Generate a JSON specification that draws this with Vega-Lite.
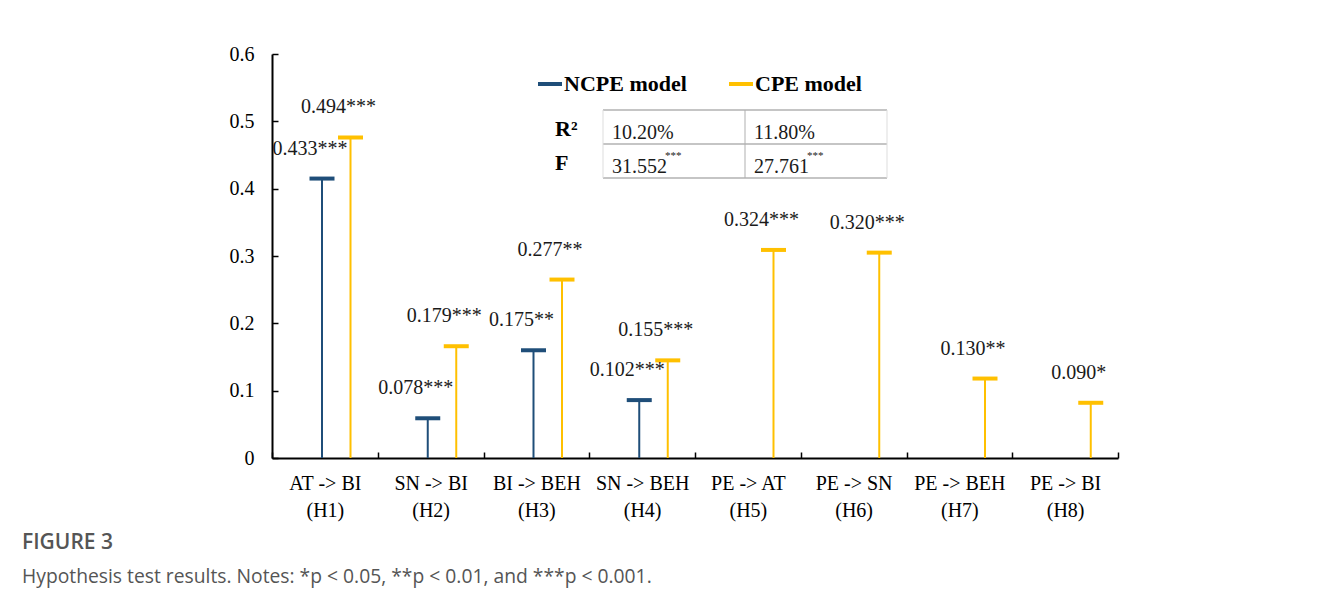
{
  "$schema": "https://vega.github.io/schema/vega-lite/v6.json",
  "width": 846,
  "height": 404,
  "autosize": {"type": "none"},
  "padding": {"left": 272, "top": 54, "right": 213, "bottom": 153},
  "background": "white",
  "config": {"view": {"stroke": null}, "font": "Liberation Serif"},
  "title": {
    "text": "FIGURE 3",
    "subtitle": "Hypothesis test results. Notes: *p < 0.05, **p < 0.01, and ***p < 0.001.",
    "orient": "bottom",
    "anchor": "start",
    "frame": "group",
    "dx": -250,
    "offset": 12,
    "font": "Open Sans",
    "fontSize": 21,
    "fontWeight": 600,
    "color": "#555555",
    "subtitleFont": "Open Sans",
    "subtitleFontSize": 19.3,
    "subtitleColor": "#555555",
    "subtitlePadding": 15
  },
  "datasets": {
    "paths": [
      {"path": "AT -> BI (H1)", "model": "NCPE", "value": 0.415, "label": "0.433***"},
      {"path": "AT -> BI (H1)", "model": "CPE", "value": 0.476, "label": "0.494***"},
      {"path": "SN -> BI (H2)", "model": "NCPE", "value": 0.059, "label": "0.078***"},
      {"path": "SN -> BI (H2)", "model": "CPE", "value": 0.166, "label": "0.179***"},
      {"path": "BI -> BEH (H3)", "model": "NCPE", "value": 0.160, "label": "0.175**"},
      {"path": "BI -> BEH (H3)", "model": "CPE", "value": 0.265, "label": "0.277**"},
      {"path": "SN -> BEH (H4)", "model": "NCPE", "value": 0.086, "label": "0.102***"},
      {"path": "SN -> BEH (H4)", "model": "CPE", "value": 0.145, "label": "0.155***"},
      {"path": "PE -> AT (H5)", "model": "CPE", "value": 0.309, "label": "0.324***"},
      {"path": "PE -> SN (H6)", "model": "CPE", "value": 0.305, "label": "0.320***"},
      {"path": "PE -> BEH (H7)", "model": "CPE", "value": 0.118, "label": "0.130**"},
      {"path": "PE -> BI (H8)", "model": "CPE", "value": 0.082, "label": "0.090*"}
    ],
    "fit": [
      {"row": "R²", "col": "NCPE", "val": "10.20%", "sup": ""},
      {"row": "R²", "col": "CPE", "val": "11.80%", "sup": ""},
      {"row": "F", "col": "NCPE", "val": "31.552", "sup": "***"},
      {"row": "F", "col": "CPE", "val": "27.761", "sup": "***"}
    ]
  },
  "layer": [
    {
      "data": {"name": "paths"},
      "encoding": {
        "x": {
          "field": "path",
          "type": "nominal",
          "sort": null,
          "scale": {"paddingInner": 0, "paddingOuter": 0},
          "axis": {
            "title": null,
            "labelAngle": 0,
            "tickBand": "extent",
            "tickSize": -6,
            "tickColor": "black",
            "tickWidth": 1.5,
            "domainColor": "black",
            "domainWidth": 2,
            "labelFont": "Liberation Serif",
            "labelFontSize": 20,
            "labelColor": "black",
            "labelPadding": 21,
            "labelLineHeight": 27,
            "labelExpr": "indexof(datum.label, ' (') > 0 ? [split(datum.label, ' (')[0], '(' + split(datum.label, ' (')[1]] : ''"
          }
        },
        "xOffset": {
          "field": "model",
          "type": "nominal",
          "scale": {"type": "point", "domain": ["NCPE", "CPE"], "range": [50, 78.5], "padding": 0}
        },
        "y": {
          "field": "value",
          "type": "quantitative",
          "scale": {"domain": [0, 0.6], "nice": false, "zero": true},
          "axis": {
            "title": null,
            "values": [0, 0.1, 0.2, 0.3, 0.4, 0.5, 0.6],
            "format": ".1~f",
            "grid": false,
            "tickSize": -6,
            "tickColor": "black",
            "tickWidth": 1.5,
            "domainColor": "black",
            "domainWidth": 2,
            "labelFont": "Liberation Serif",
            "labelFontSize": 20,
            "labelColor": "black",
            "labelPadding": 24
          }
        },
        "color": {
          "field": "model",
          "type": "nominal",
          "scale": {"domain": ["NCPE", "CPE"], "range": ["#1F4E79", "#FFC000"]},
          "legend": {
            "title": null,
            "orient": "none",
            "direction": "horizontal",
            "legendX": 264,
            "legendY": 16,
            "padding": 0,
            "symbolType": "stroke",
            "symbolSize": 576,
            "symbolStrokeWidth": 4,
            "symbolOpacity": 1,
            "labelOffset": 0,
            "columnPadding": 34,
            "labelFont": "Liberation Serif",
            "labelFontSize": 22,
            "labelFontWeight": "bold",
            "labelColor": "black",
            "labelExpr": "datum.label + ' model'"
          }
        }
      },
      "layer": [
        {"mark": {"type": "rule", "strokeWidth": 2, "opacity": 1}, "encoding": {"y2": {"datum": 0}}},
        {"mark": {"type": "tick", "orient": "horizontal", "size": 25, "thickness": 4, "opacity": 1}},
        {
          "mark": {"type": "text", "dx": -12, "dy": -24, "baseline": "alphabetic", "fontSize": 20, "font": "Liberation Serif"},
          "encoding": {"text": {"field": "label"}, "color": {"value": "#1a1a1a"}}
        }
      ]
    },
    {
      "data": {"name": "fit"},
      "encoding": {
        "x": {
          "field": "col",
          "type": "nominal",
          "scale": {"type": "band", "domain": ["NCPE", "CPE"], "range": [331, 615], "paddingInner": 0, "paddingOuter": 0},
          "axis": null
        },
        "y": {
          "field": "row",
          "type": "nominal",
          "scale": {"type": "band", "domain": ["R²", "F"], "range": [56, 124], "paddingInner": 0, "paddingOuter": 0},
          "axis": null
        }
      },
      "layer": [
        {
          "mark": {"type": "tick", "orient": "horizontal", "size": 142, "thickness": 1, "color": "#8c8c8c", "opacity": 1},
          "encoding": {"y": {"field": "row", "type": "nominal", "bandPosition": 0}}
        },
        {
          "transform": [{"filter": "datum.row == 'F'"}],
          "mark": {"type": "tick", "orient": "horizontal", "size": 142, "thickness": 1, "color": "#8c8c8c", "opacity": 1},
          "encoding": {"y": {"field": "row", "type": "nominal", "bandPosition": 1}}
        },
        {
          "transform": [{"filter": "datum.col == 'CPE'"}],
          "mark": {"type": "tick", "orient": "vertical", "size": 34, "thickness": 1, "color": "#b0b0b0", "opacity": 1},
          "encoding": {"x": {"field": "col", "type": "nominal", "bandPosition": 0}}
        },
        {
          "transform": [{"filter": "datum.col == 'CPE'"}],
          "mark": {"type": "tick", "orient": "vertical", "size": 34, "thickness": 1, "color": "#dddddd", "opacity": 1},
          "encoding": {"x": {"field": "col", "type": "nominal", "bandPosition": 1}}
        },
        {
          "transform": [{"filter": "datum.col == 'NCPE'"}],
          "mark": {"type": "tick", "orient": "vertical", "size": 34, "thickness": 1, "color": "#dddddd", "opacity": 1},
          "encoding": {"x": {"field": "col", "type": "nominal", "bandPosition": 0}}
        },
        {
          "mark": {"type": "text", "align": "left", "baseline": "middle", "dx": 9, "dy": 6, "fontSize": 20, "font": "Liberation Serif", "color": "#1a1a1a"},
          "encoding": {"x": {"field": "col", "type": "nominal", "bandPosition": 0}, "text": {"field": "val"}}
        },
        {
          "mark": {"type": "text", "align": "left", "baseline": "middle", "dx": 62, "dy": -5, "fontSize": 11, "font": "Liberation Serif", "color": "#1a1a1a"},
          "encoding": {"x": {"field": "col", "type": "nominal", "bandPosition": 0}, "text": {"field": "sup"}}
        },
        {
          "transform": [{"filter": "datum.col == 'NCPE'"}],
          "mark": {"type": "text", "align": "left", "baseline": "middle", "dx": -48, "dy": 2, "fontSize": 22, "fontWeight": "bold", "font": "Liberation Serif", "color": "black"},
          "encoding": {"x": {"field": "col", "type": "nominal", "bandPosition": 0}, "text": {"field": "row"}}
        }
      ]
    }
  ],
  "resolve": {"scale": {"x": "independent", "y": "independent"}}
}
